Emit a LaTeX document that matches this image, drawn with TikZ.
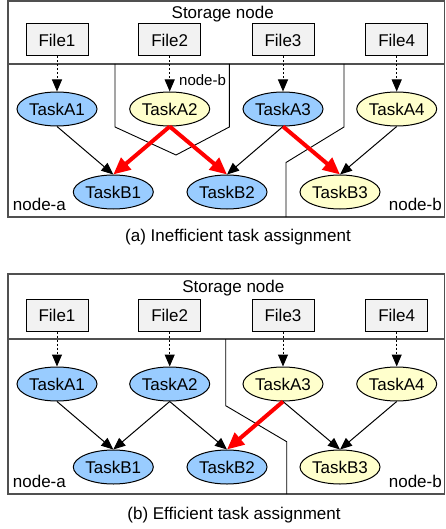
\documentclass[tikz,border=0pt]{standalone}
\usepackage{fontspec}
\setmainfont{Liberation Sans}
\usetikzlibrary{shapes.geometric, arrows.meta}
\definecolor{taskblue}{RGB}{153, 204, 255}
\definecolor{taskyellow}{RGB}{255, 255, 204}
\definecolor{filegray}{RGB}{242, 242, 242}
\definecolor{framegray}{RGB}{80, 80, 80}
\tikzset{>={Triangle[length=12pt,width=10pt]}}

\begin{document}
\begin{tikzpicture}[x=1pt, y=-1pt, font=\fontsize{17}{20}\selectfont,
  frame/.style={draw=framegray, line width=1.5pt},
  part/.style={line width=0.9pt},
  filebox/.style={draw, fill=filegray, line width=1pt, minimum width=62pt, minimum height=32pt, inner sep=0pt},
  task/.style={draw, ellipse, line width=1pt, minimum width=80pt, minimum height=34pt, inner sep=0pt},
  fetch/.style={->, line width=1pt, dash pattern=on 2pt off 2pt},
  dep/.style={->, line width=1pt},
  remote/.style={-{Triangle[length=17pt,width=15pt]}, line width=4pt, red},
  lbl/.style={inner sep=0pt}]
\useasboundingbox (0,0) rectangle (445,529);

\begin{scope}
\draw[frame] (8,1) rectangle (444.5,217);
\draw[frame] (8,64) -- (444.5,64);
\draw[part] (115,64) -- (115,127) -- (176,155) -- (229.3,127) -- (229.3,64);
\draw[part] (344,64) -- (344,127) -- (286,162.5) -- (286,217);
\node[lbl, anchor=base] (astore) at (222.7,19) {Storage node};
\foreach \i/\x/\c in {1/57/taskblue, 2/169.7/taskyellow, 3/283/taskblue, 4/396.7/taskyellow}{
\node[filebox] (af\i) at (\x,40) {File\i};
\node[task, fill=\c] (aa\i) at (\x,109) {TaskA\i};
\draw[fetch] (af\i.south) -- (aa\i.north);
}
\foreach \i/\x/\c in {1/113.3/taskblue, 2/227/taskblue, 3/340/taskyellow}{
\node[task, fill=\c] (ab\i) at (\x,192) {TaskB\i};
}
\draw[dep] (aa1.south) -- (ab1.north);
\draw[dep] (aa3.south) -- (ab2.north);
\draw[dep] (aa4.south) -- (ab3.north);
\draw[remote] (aa2.south) -- (ab1.north);
\draw[remote] (aa2.south) -- (ab2.north);
\draw[remote] (aa3.south) -- (ab3.north);
\node[lbl, anchor=base west, font=\fontsize{15}{18}\selectfont] (aotherb) at (179,85.3) {node-b};
\node[lbl, anchor=base west] (anodea) at (12.7,210) {node-a};
\node[lbl, anchor=base east] (anodeb) at (442,210) {node-b};
\end{scope}
\node[lbl, anchor=base] (acap) at (238,241.7) {(a) Inefficient task assignment};

\begin{scope}[shift={(0,275)}]
\draw[frame] (8,-1) rectangle (444.5,219);
\draw[frame] (8,64) -- (444.5,64);
\draw[part] (225.7,64) -- (225.7,130.7) -- (286.7,166.7) -- (286.7,219);
\node[lbl, anchor=base] (bstore) at (233.3,17.3) {Storage node};
\foreach \i/\x/\c in {1/57/taskblue, 2/169.7/taskblue, 3/283/taskyellow, 4/396.7/taskyellow}{
\node[filebox] (bf\i) at (\x,40) {File\i};
\node[task, fill=\c] (ba\i) at (\x,109) {TaskA\i};
\draw[fetch] (bf\i.south) -- (ba\i.north);
}
\foreach \i/\x/\c in {1/113.3/taskblue, 2/227/taskblue, 3/340/taskyellow}{
\node[task, fill=\c] (bb\i) at (\x,192) {TaskB\i};
}
\draw[dep] (ba1.south) -- (bb1.north);
\draw[dep] (ba2.south) -- (bb1.north);
\draw[dep] (ba2.south) -- (bb2.north);
\draw[dep] (ba3.south) -- (bb3.north);
\draw[dep] (ba4.south) -- (bb3.north);
\draw[remote] (ba3.south) -- (bb2.north);
\node[lbl, anchor=base west] (bnodea) at (12.7,212) {node-a};
\node[lbl, anchor=base east] (bnodeb) at (442,212) {node-b};
\end{scope}
\node[lbl, anchor=base] (bcap) at (234,519.3) {(b) Efficient task assignment};
\end{tikzpicture}
\end{document}
